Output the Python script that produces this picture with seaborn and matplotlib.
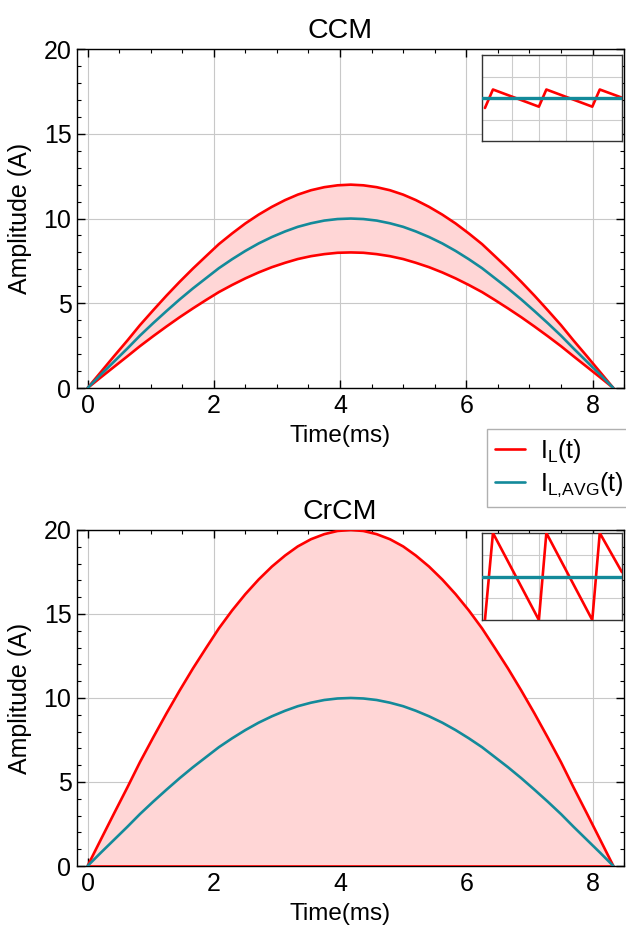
import numpy as np
import pandas as pd
import seaborn as sns
import matplotlib
matplotlib.use("Agg")
import matplotlib.pyplot as plt

# ---------------- data ----------------
# one half line cycle (ms), 41 samples
time_half = [0.00, 0.21, 0.42, 0.63, 0.83, 1.04, 1.25, 1.46, 1.67, 1.88,
             2.08, 2.29, 2.50, 2.71, 2.92, 3.13, 3.33, 3.54, 3.75, 3.96, 4.17]
time_ms = time_half + [round(8.33 - t, 2) for t in time_half[-2::-1]]

avg_half = [0.00, 0.79, 1.56, 2.33, 3.09, 3.83, 4.54, 5.23, 5.88, 6.49,
            7.07, 7.60, 8.09, 8.53, 8.91, 9.24, 9.51, 9.72, 9.88, 9.97, 10.00]
ccm_up_half = [0.00, 0.94, 1.88, 2.80, 3.71, 4.59, 5.45, 6.27, 7.05, 7.79,
               8.49, 9.12, 9.71, 10.23, 10.69, 11.09, 11.41, 11.67, 11.85, 11.96, 12.00]
ccm_lo_half = [0.00, 0.63, 1.25, 1.87, 2.47, 3.06, 3.63, 4.18, 4.70, 5.20,
               5.66, 6.08, 6.47, 6.82, 7.13, 7.39, 7.61, 7.78, 7.90, 7.98, 8.00]
crcm_up_half = [0.00, 1.57, 3.13, 4.67, 6.18, 7.65, 9.08, 10.45, 11.76, 12.99,
                14.14, 15.21, 16.18, 17.05, 17.82, 18.48, 19.02, 19.45, 19.75, 19.94, 20.00]
crcm_lo_half = [0.0] * 21

def mirror(h):
    return h + h[-2::-1]

i_avg = mirror(avg_half)
ccm_upper = mirror(ccm_up_half)
ccm_lower = mirror(ccm_lo_half)
crcm_upper = mirror(crcm_up_half)
crcm_lower = mirror(crcm_lo_half)

# zoomed switching-ripple views (arbitrary time units)
inset_t = [-1.02, -0.72, 1.00, 1.28, 3.00, 3.28, 4.11]
ccm_ripple = [7.7, 12.0, 8.0, 12.0, 8.0, 12.0, 10.1]
crcm_ripple = [0.0, 20.0, 0.0, 20.0, 0.0, 20.0, 11.0]
inset_avg_t = [-1.135, 4.11]
inset_avg = [10.0, 10.0]

titles = ["CCM", "CrCM"]
legend_labels = [r"$I_L(t)$", r"$I_{L{,}AVG}(t)$"]

# ---------------- style ----------------
sns.set_theme(style="ticks")
plt.rcParams["font.family"] = ["Liberation Sans", "DejaVu Sans"]
plt.rcParams.update({
    "mathtext.fontset": "custom",
    "mathtext.rm": "Liberation Sans",
    "mathtext.it": "Liberation Sans",
    "mathtext.bf": "Liberation Sans",
    "mathtext.default": "regular",
    "text.color": "black", "axes.labelcolor": "black",
    "xtick.labelcolor": "black", "ytick.labelcolor": "black",
    "xtick.direction": "in", "ytick.direction": "in",
    "xtick.top": True, "ytick.right": True,
    "xtick.major.size": 6, "ytick.major.size": 6,
    "xtick.minor.size": 3, "ytick.minor.size": 3,
    "xtick.major.width": 1.0, "ytick.major.width": 1.0,
    "xtick.minor.width": 0.8, "ytick.minor.width": 0.8,
    "xtick.color": "black", "ytick.color": "black",
    "axes.edgecolor": "black", "axes.linewidth": 1.0,
})

RED = "#ff0000"
TEAL = "#138a9a"
FILL = "#ffd6d6"

fig = plt.figure(figsize=(6.26, 9.27), dpi=100)
ax_top = fig.add_axes([0.123, 0.5814, 0.874, 0.3657])
ax_bot = fig.add_axes([0.123, 0.0658, 0.874, 0.3625])

panels = [
    (ax_top, ccm_upper, ccm_lower, ccm_ripple, [0.740, 0.7286, 0.256, 0.2534]),
    (ax_bot, crcm_upper, crcm_lower, crcm_ripple, [0.740, 0.732, 0.256, 0.259]),
]

for (ax, up, lo, rip, ibox), title in zip(panels, titles):
    df = pd.DataFrame({"t": time_ms, "up": up, "lo": lo, "avg": i_avg})
    ax.fill_between(df["t"], df["lo"], df["up"], color=FILL, lw=0, zorder=1)
    sns.lineplot(data=df, x="t", y="up", ax=ax, color=RED, lw=1.9, zorder=3, legend=False)
    sns.lineplot(data=df, x="t", y="lo", ax=ax, color=RED, lw=1.9, zorder=3, legend=False)
    sns.lineplot(data=df, x="t", y="avg", ax=ax, color=TEAL, lw=1.9, zorder=4, legend=False)
    ax.set_xlim(-0.167, 8.5)
    ax.set_ylim(0, 20)
    ax.set_xticks([0, 2, 4, 6, 8])
    ax.set_yticks([0, 5, 10, 15, 20])
    ax.xaxis.set_minor_locator(matplotlib.ticker.MultipleLocator(0.5))
    ax.yaxis.set_minor_locator(matplotlib.ticker.MultipleLocator(1))
    ax.grid(True, which="major", color="#c8c8c8", lw=0.8, zorder=0)
    ax.set_axisbelow(True)
    ax.tick_params(labelsize=18, pad=4)
    ax.set_xlabel("Time(ms)", fontsize=17.5)
    ax.set_ylabel("Amplitude (A)", fontsize=18)
    ax.xaxis.set_label_coords(0.48, -0.11)
    ax.yaxis.set_label_coords(-0.082, 0.5)
    ax.set_title(title, fontsize=20.5, pad=8, x=0.48)

    ins = ax.inset_axes(ibox)
    sns.lineplot(x=inset_t, y=rip, ax=ins, color=RED, lw=1.9, zorder=3)
    sns.lineplot(x=inset_avg_t, y=inset_avg, ax=ins, color=TEAL, lw=2.4, zorder=4)
    ins.set_xlim(-1.135, 4.11)
    ins.set_ylim(0, 20)
    ins.set_xticks([0, 1, 2, 3])
    ins.set_yticks([5, 10, 15])
    ins.tick_params(which="both", length=0, labelbottom=False, labelleft=False,
                    labeltop=False, labelright=False, top=False, right=False)
    ins.grid(True, color="#cccccc", lw=0.8)
    ins.set_xlabel("")
    ins.set_ylabel("")
    for sp in ins.spines.values():
        sp.set_color("#333333")
        sp.set_linewidth(1.0)
    ins.set_facecolor("white")

handles = [plt.Line2D([], [], color=RED, lw=1.9), plt.Line2D([], [], color=TEAL, lw=1.9)]
fig.legend(handles, legend_labels, loc="upper left", bbox_to_anchor=(0.778, 0.537),
           fontsize=18, frameon=True, fancybox=False, edgecolor="#b0b0b0",
           framealpha=1, handlelength=1.2, borderaxespad=0, borderpad=0.3,
           labelspacing=0.25, handletextpad=0.6)

fig.savefig("out.png", dpi=100)
